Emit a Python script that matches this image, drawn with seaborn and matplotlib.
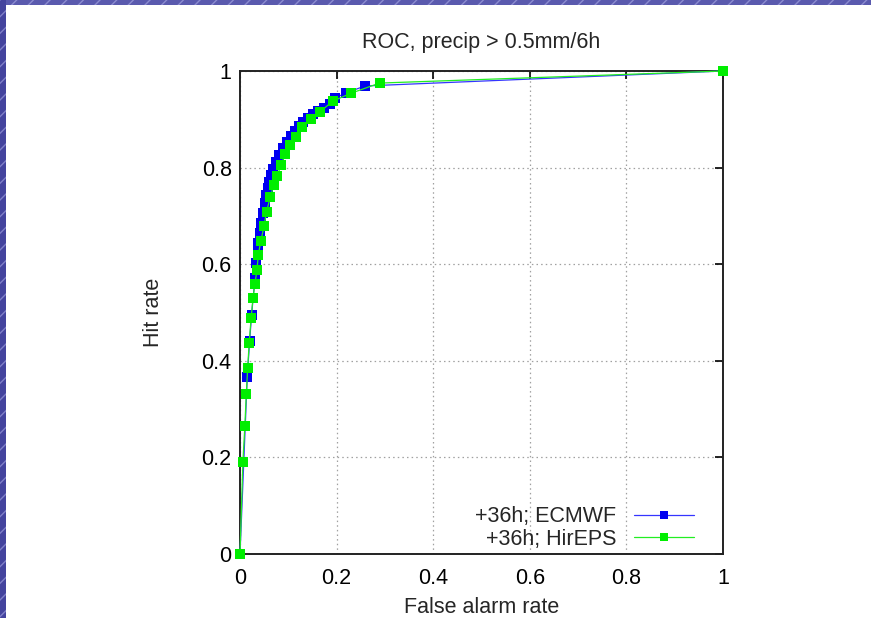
import matplotlib
matplotlib.use('Agg')
import matplotlib.pyplot as plt
import seaborn as sns
import pandas as pd
from matplotlib.patches import Rectangle

# ROC points
ecmwf_far = [0, 0.015, 0.020, 0.024, 0.031, 0.033, 0.037, 0.038, 0.041, 0.043, 0.047, 0.051,
             0.054, 0.057, 0.061, 0.064, 0.068, 0.075, 0.081, 0.089, 0.097, 0.106, 0.114, 0.122,
             0.130, 0.141, 0.151, 0.161, 0.174, 0.186, 0.197, 0.220, 0.259, 1.0]
ecmwf_hit = [0, 0.366, 0.442, 0.495, 0.571, 0.602, 0.626, 0.643, 0.664, 0.685, 0.705, 0.726,
             0.743, 0.757, 0.771, 0.785, 0.798, 0.812, 0.826, 0.841, 0.853, 0.865, 0.876, 0.886,
             0.894, 0.903, 0.911, 0.917, 0.923, 0.932, 0.944, 0.955, 0.969, 1.0]

hireps_far = [0, 0.006, 0.010, 0.013, 0.016, 0.019, 0.023, 0.027, 0.031, 0.035, 0.038, 0.043,
              0.050, 0.055, 0.063, 0.070, 0.077, 0.085, 0.094, 0.104, 0.115, 0.128, 0.146,
              0.166, 0.193, 0.230, 0.289, 1.0]
hireps_hit = [0, 0.191, 0.264, 0.331, 0.386, 0.437, 0.488, 0.531, 0.560, 0.587, 0.620, 0.647,
              0.680, 0.709, 0.740, 0.764, 0.783, 0.805, 0.828, 0.847, 0.863, 0.884, 0.900,
              0.916, 0.938, 0.954, 0.975, 1.0]

ticks = [0, 0.2, 0.4, 0.6, 0.8, 1]
tick_labels = ['0', '0.2', '0.4', '0.6', '0.8', '1']

sns.set_style('white')
plt.rcParams['font.family'] = ['Liberation Sans', 'DejaVu Sans']
fs = 15.5

fig = plt.figure(figsize=(8.71, 6.18), dpi=100)
ax = fig.add_axes([240 / 871, 1 - 554 / 618, 483 / 871, 483 / 618])

# slide border (top and left)
fig.patches.append(Rectangle((0, 1 - 5 / 618), 1, 5 / 618, transform=fig.transFigure,
                             facecolor='#5a5aae', edgecolor='#8c8cd0', hatch='//', lw=0, zorder=0))
fig.patches.append(Rectangle((0, 0), 6 / 871, 1, transform=fig.transFigure,
                             facecolor='#44449e', edgecolor='#8080c8', hatch='//', lw=0, zorder=0))

df_e = pd.DataFrame({'far': ecmwf_far, 'hit': ecmwf_hit})
df_h = pd.DataFrame({'far': hireps_far, 'hit': hireps_hit})

sns.lineplot(data=df_e, x='far', y='hit', sort=False, estimator=None, ax=ax,
             color='#3535ff', lw=0.9, marker='s', markersize=6.5, markeredgewidth=0,
             markerfacecolor='#0000f0', label='+36h; ECMWF', zorder=3, clip_on=False)
sns.lineplot(data=df_h, x='far', y='hit', sort=False, estimator=None, ax=ax,
             color='#22ee22', lw=0.9, marker='s', markersize=6.5, markeredgewidth=0,
             markerfacecolor='#00ee00', label='+36h; HirEPS', zorder=4, clip_on=False)

ax.set_xlim(0, 1)
ax.set_ylim(0, 1)
ax.set_xticks(ticks)
ax.set_yticks(ticks)
ax.set_xticklabels(tick_labels)
ax.set_yticklabels(tick_labels)
ax.tick_params(direction='in', length=6, width=1.2, top=True, right=True,
               labelsize=fs, colors='black')
ax.tick_params(axis='x', pad=10)
ax.tick_params(axis='y', pad=6)
ax.grid(True, color='#a0a0a0', linestyle=(0, (1.2, 2.5)), lw=0.9)
for s in ax.spines.values():
    s.set_color('#222222')
    s.set_linewidth(1.4)

ax.set_title('ROC, precip > 0.5mm/6h', fontsize=fs, pad=16.5)
ax.set_xlabel('False alarm rate', fontsize=fs, labelpad=6)
ax.set_ylabel('Hit rate', fontsize=fs, labelpad=27)

leg = ax.legend(loc='lower right', bbox_to_anchor=(0.972, -0.022), frameon=False,
                markerfirst=False, fontsize=fs, handlelength=2.8, handletextpad=0.84,
                labelspacing=0.05, borderpad=0.2, markerscale=0.8)
for t in leg.get_texts():
    t.set_ha('right')

fig.savefig('out.png', dpi=100, facecolor='white')
